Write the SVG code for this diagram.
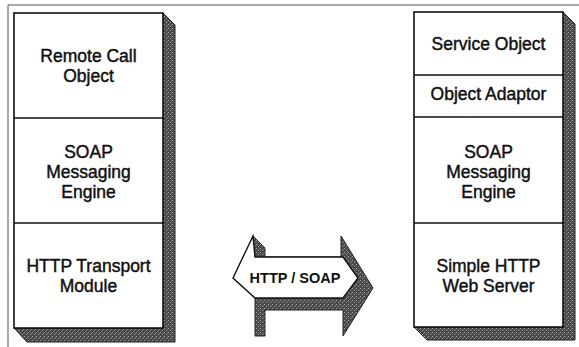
<svg xmlns="http://www.w3.org/2000/svg" width="579" height="347" viewBox="0 0 579 347">
<style>
.box{fill:#fff;stroke:#111;stroke-width:1.6}
.div{stroke:#111;stroke-width:1.6}
.sh{fill:url(#stip);stroke:#222;stroke-width:1}
.t{font-family:"Liberation Sans",Arial,sans-serif;font-size:17.5px;fill:#111;stroke:#111;stroke-width:0.45;text-anchor:middle}
.tb{font-family:"Liberation Sans",Arial,sans-serif;font-size:14.5px;font-weight:bold;fill:#111;text-anchor:middle}
.frame{stroke:#555;stroke-width:1;fill:none}
</style>
<defs>
<pattern id="stip" width="4" height="4" patternUnits="userSpaceOnUse">
<rect width="4" height="4" fill="#4a4a4a"/>
<rect x="0" y="0" width="1" height="1" fill="#aaa"/>
<rect x="2" y="2" width="1" height="1" fill="#999"/>
<rect x="3" y="1" width="1" height="1" fill="#777"/>
</pattern>
</defs>
<rect width="579" height="347" fill="#fff"/>
<path class="frame" d="M8,347 V5 H579"/>

<g id="client-stack">
<polygon class="sh" points="163,13 175,25 175,342 27,342 14,328 163,328"/>
<rect class="box" x="14" y="13" width="149" height="315"/>
<line class="div" x1="14" y1="118" x2="163" y2="118"/>
<line class="div" x1="14" y1="223" x2="163" y2="223"/>
</g>
<g id="remote-call-object">
<text class="t" x="88.5" y="62">Remote Call</text>
<text class="t" x="88.5" y="82">Object</text>
</g>
<g id="client-soap-engine">
<text class="t" x="88.5" y="158">SOAP</text>
<text class="t" x="88.5" y="178">Messaging</text>
<text class="t" x="88.5" y="198">Engine</text>
</g>
<g id="http-transport-module">
<text class="t" x="88.5" y="272">HTTP Transport</text>
<text class="t" x="88.5" y="292">Module</text>
</g>

<g id="server-stack">
<polygon class="sh" points="563,12 575,24 575,340 427,340 414,327 563,327"/>
<rect class="box" x="414" y="12" width="149" height="315"/>
<line class="div" x1="414" y1="75" x2="563" y2="75"/>
<line class="div" x1="414" y1="117" x2="563" y2="117"/>
<line class="div" x1="414" y1="223" x2="563" y2="223"/>
</g>
<g id="service-object">
<text class="t" x="488.5" y="50">Service Object</text>
</g>
<g id="object-adaptor">
<text class="t" x="488.5" y="100">Object Adaptor</text>
</g>
<g id="server-soap-engine">
<text class="t" x="488.5" y="158">SOAP</text>
<text class="t" x="488.5" y="178">Messaging</text>
<text class="t" x="488.5" y="198">Engine</text>
</g>
<g id="simple-http-web-server">
<text class="t" x="488.5" y="272">Simple HTTP</text>
<text class="t" x="488.5" y="292">Web Server</text>
</g>

<g id="connectors">
<g id="http-soap-arrow">
<polygon class="sh" points="253,236 265,248 265,257 341,257 341,236 373,288 343,336 343,310 265,310 265,336 255,336 255,298"/>
<polygon fill="#fff" stroke="#111" stroke-width="1.4" points="233,278 253,236 255,257 343,257 358,278 343,298 255,298"/>
<text class="tb" x="295" y="283">HTTP / SOAP</text>
</g>
</g>
</svg>
